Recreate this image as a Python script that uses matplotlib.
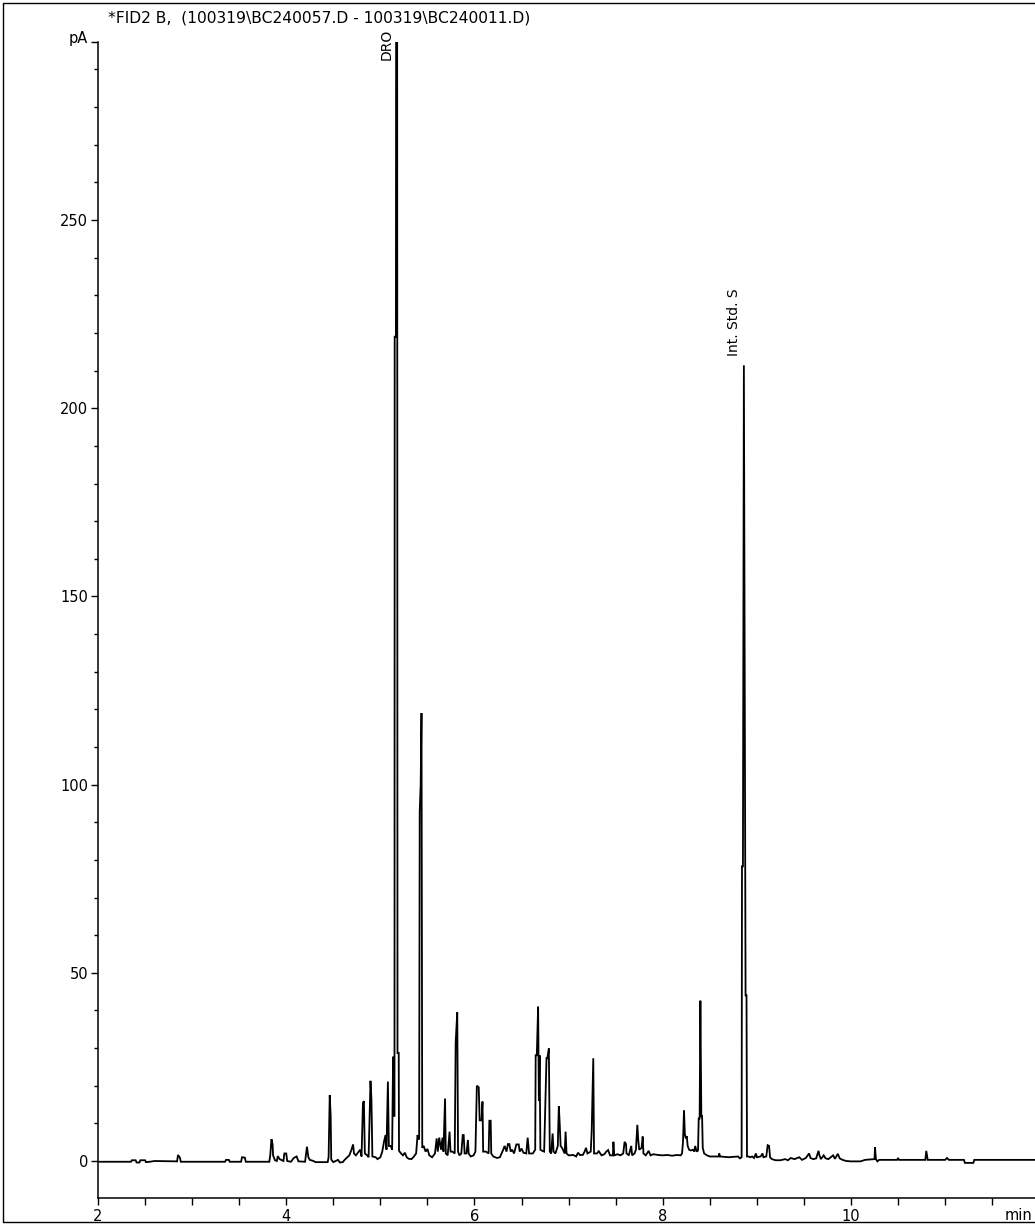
import matplotlib
matplotlib.use('Agg')
import matplotlib.pyplot as plt
from matplotlib.lines import Line2D
from matplotlib.ticker import MultipleLocator

# FID2 B chromatogram trace, (retention time in min, signal in pA)
trace_points = [
    (2.02, -0.2), (2.35, -0.2), (2.36, 0.2), (2.40, 0.2), (2.41, -0.4), (2.44, -0.4),
    (2.45, 0.2), (2.50, 0.2), (2.51, -0.3), (2.55, -0.2), (2.60, 0.0), (2.84, -0.1),
    (2.85, 1.6), (2.87, 0.9), (2.88, -0.2), (3.35, -0.2), (3.36, 0.3), (3.39, 0.3),
    (3.40, -0.2), (3.52, -0.2), (3.53, 1.0), (3.56, 0.9), (3.57, -0.2), (3.82, -0.2),
    (3.83, 1.5), (3.843, 5.8), (3.855, 4.4), (3.86, 1.5), (3.88, 0.2), (3.90, 0.0),
    (3.91, 1.3), (3.93, 0.5), (3.97, 0.0), (3.98, 2.0), (4.00, 2.0), (4.01, 0.0),
    (4.05, -0.2), (4.08, 0.8), (4.11, 1.2), (4.13, -0.1), (4.20, -0.2), (4.22, 3.8),
    (4.235, 1.0), (4.25, 0.3), (4.29, 0.0), (4.31, -0.3), (4.44, -0.3), (4.45, 1.0),
    (4.462, 17.5), (4.472, 12.0), (4.478, 0.4), (4.50, -0.3), (4.55, 0.3), (4.57, -0.4),
    (4.60, -0.3), (4.62, 0.3), (4.65, 1.0), (4.67, 1.5), (4.69, 2.8), (4.71, 4.4),
    (4.72, 2.0), (4.74, 1.5), (4.77, 2.5), (4.785, 3.0), (4.80, 1.2), (4.815, 15.5),
    (4.825, 15.9), (4.835, 2.0), (4.86, 1.5), (4.875, 1.0), (4.895, 21.3), (4.905, 16.4),
    (4.915, 1.2), (4.95, 1.0), (4.97, 0.5), (5.00, 1.0), (5.02, 2.5), (5.04, 5.3),
    (5.055, 6.9), (5.065, 3.0), (5.080, 21.1), (5.090, 4.0), (5.110, 4.0), (5.125, 3.0),
    (5.135, 27.7), (5.142, 12.0), (5.150, 12.0), (5.152, 219.0), (5.165, 219.0),
    (5.168, 330.0), (5.178, 330.0), (5.182, 28.7), (5.195, 28.7), (5.198, 2.7),
    (5.22, 2.0), (5.24, 1.5), (5.26, 2.2), (5.28, 1.0), (5.30, 0.6), (5.33, 0.5),
    (5.35, 1.0), (5.38, 2.0), (5.395, 6.9), (5.405, 5.7), (5.412, 6.0), (5.418, 92.7),
    (5.428, 100.0), (5.437, 119.0), (5.445, 3.5), (5.46, 4.0), (5.48, 2.5), (5.50, 3.2),
    (5.52, 1.5), (5.55, 1.0), (5.58, 2.0), (5.598, 6.0), (5.61, 2.5), (5.625, 6.2),
    (5.645, 3.0), (5.660, 6.2), (5.670, 2.5), (5.687, 16.6), (5.695, 2.0), (5.715, 1.5),
    (5.735, 7.8), (5.745, 2.5), (5.765, 2.5), (5.790, 2.0), (5.800, 31.5), (5.817, 39.5),
    (5.825, 2.5), (5.84, 1.5), (5.86, 2.0), (5.875, 6.9), (5.885, 6.9), (5.895, 2.0),
    (5.915, 2.0), (5.930, 5.6), (5.938, 2.0), (5.96, 1.2), (5.99, 1.5), (6.01, 2.5),
    (6.025, 20.0), (6.045, 19.6), (6.055, 10.8), (6.075, 10.8), (6.085, 15.8),
    (6.092, 2.5), (6.12, 2.5), (6.15, 2.0), (6.158, 10.7), (6.172, 10.7), (6.178, 2.0),
    (6.20, 1.2), (6.24, 0.8), (6.27, 1.0), (6.30, 2.7), (6.32, 4.0), (6.34, 2.5),
    (6.355, 4.5), (6.37, 4.5), (6.385, 2.5), (6.40, 3.0), (6.42, 2.0), (6.445, 4.4),
    (6.47, 4.4), (6.48, 2.5), (6.50, 3.3), (6.52, 2.2), (6.55, 2.0), (6.565, 6.2),
    (6.58, 2.0), (6.62, 2.0), (6.645, 3.0), (6.650, 28.1), (6.662, 28.1), (6.676, 41.0),
    (6.684, 16.0), (6.692, 28.1), (6.700, 3.0), (6.72, 2.7), (6.74, 2.5), (6.765, 27.3),
    (6.774, 27.3), (6.790, 29.9), (6.800, 2.5), (6.815, 2.0), (6.830, 7.3), (6.840, 2.5),
    (6.86, 2.0), (6.885, 4.0), (6.896, 14.6), (6.906, 9.5), (6.915, 4.0), (6.93, 3.5),
    (6.958, 2.0), (6.968, 7.8), (6.978, 2.0), (7.00, 1.5), (7.05, 1.6), (7.08, 1.2),
    (7.10, 2.2), (7.12, 1.6), (7.15, 1.6), (7.17, 2.5), (7.185, 3.5), (7.20, 2.0),
    (7.235, 2.5), (7.245, 7.8), (7.262, 27.3), (7.27, 2.0), (7.30, 2.0), (7.32, 2.6),
    (7.35, 1.5), (7.38, 1.8), (7.40, 2.5), (7.42, 2.9), (7.44, 1.5), (7.47, 1.5),
    (7.476, 5.1), (7.485, 1.5), (7.52, 1.8), (7.55, 1.5), (7.58, 2.0), (7.595, 5.1),
    (7.61, 4.5), (7.615, 2.0), (7.64, 1.5), (7.665, 4.0), (7.675, 1.5), (7.70, 2.0),
    (7.715, 3.0), (7.73, 9.6), (7.74, 5.5), (7.75, 3.0), (7.775, 3.5), (7.787, 6.5),
    (7.795, 2.0), (7.82, 1.5), (7.85, 2.7), (7.87, 1.5), (7.90, 1.8), (7.95, 1.6),
    (8.00, 1.5), (8.05, 1.6), (8.10, 1.4), (8.15, 1.6), (8.19, 1.5), (8.205, 2.0),
    (8.215, 5.0), (8.226, 13.4), (8.235, 7.1), (8.245, 6.0), (8.255, 6.6), (8.265, 4.0),
    (8.28, 3.0), (8.30, 2.8), (8.32, 3.0), (8.335, 2.5), (8.345, 4.0), (8.36, 2.5),
    (8.375, 2.8), (8.382, 11.3), (8.392, 11.3), (8.400, 42.6), (8.410, 11.9),
    (8.418, 11.9), (8.425, 3.5), (8.44, 2.0), (8.47, 1.5), (8.50, 1.2), (8.595, 1.2),
    (8.60, 2.0), (8.61, 1.2), (8.70, 1.0), (8.80, 1.2), (8.82, 0.7), (8.838, 1.0),
    (8.842, 78.3), (8.852, 78.3), (8.862, 211.4), (8.880, 44.0), (8.890, 44.0),
    (8.895, 1.2), (8.91, 1.2), (8.93, 1.0), (8.95, 1.2), (8.97, 0.8), (8.99, 2.0),
    (9.00, 1.0), (9.04, 1.2), (9.06, 2.0), (9.07, 1.0), (9.10, 1.2), (9.115, 4.2),
    (9.13, 4.0), (9.14, 1.0), (9.16, 0.5), (9.20, 0.2), (9.25, 0.2), (9.30, 0.5),
    (9.33, 0.2), (9.36, 0.8), (9.40, 0.5), (9.45, 1.0), (9.48, 0.3), (9.52, 0.8),
    (9.555, 2.0), (9.57, 0.8), (9.60, 0.5), (9.63, 0.7), (9.655, 2.7), (9.665, 1.5),
    (9.68, 0.5), (9.71, 1.5), (9.73, 0.7), (9.76, 0.5), (9.81, 1.5), (9.83, 0.6),
    (9.86, 1.9), (9.88, 0.7), (9.91, 0.3), (9.95, 0.0), (10.00, -0.1), (10.10, -0.1),
    (10.15, 0.3), (10.25, 0.5), (10.255, 3.6), (10.265, 0.5), (10.28, -0.1),
    (10.30, 0.3), (10.49, 0.3), (10.50, 0.8), (10.51, 0.3), (10.79, 0.3), (10.80, 2.7),
    (10.815, 0.3), (11.00, 0.3), (11.02, 0.8), (11.04, 0.3), (11.20, 0.3), (11.21, -0.5),
    (11.30, -0.5), (11.31, 0.3), (11.96, 0.3),
]
trace_min = [p[0] for p in trace_points]
trace_pa = [p[1] for p in trace_points]

# peak annotations
peak_names = ['DRO', 'Int. Std. S']
peak_label_min = [5.07, 8.76]
peak_label_pa = [292.5, 214.0]

title = r'*FID2 B,  (100319\BC240057.D - 100319\BC240011.D)'
x_ticks = [2, 4, 6, 8, 10]
y_ticks = [0, 50, 100, 150, 200, 250]

plt.rcParams['font.family'] = ['DejaVu Sans']

fig = plt.figure(figsize=(10.35, 12.26), dpi=100)
ax = fig.add_axes([98 / 1035, 28 / 1226, 937 / 1035, 1156 / 1226])

ax.plot(trace_min, trace_pa, color='black', lw=1.3, solid_joinstyle='miter')

ax.set_xlim(2, 11.955)
ax.set_ylim(-9.83, 297.3)

for spine in ['top', 'right']:
    ax.spines[spine].set_visible(False)
for spine in ['left', 'bottom']:
    ax.spines[spine].set_linewidth(1.1)

ax.set_xticks(x_ticks)
ax.set_xticklabels([str(v) for v in x_ticks])
ax.xaxis.set_minor_locator(MultipleLocator(0.5))
ax.set_yticks(y_ticks + [297.3])
ax.set_yticklabels([str(v) for v in y_ticks] + [''])
ax.yaxis.set_minor_locator(MultipleLocator(10))
ax.tick_params(axis='both', which='major', direction='out', length=5, width=1,
               labelsize=10.5, pad=3)
ax.tick_params(axis='x', which='minor', direction='out', length=5, width=1)
ax.tick_params(axis='y', which='minor', direction='out', length=3, width=1)
ax.tick_params(axis='y', which='major', pad=2)

for name, tx, ty in zip(peak_names, peak_label_min, peak_label_pa):
    ax.text(tx, ty, name, rotation=90, ha='center', va='bottom', fontsize=10,
            clip_on=False)

fig.text(319 / 1035, 1 - 18 / 1226, title, ha='center', va='center', fontsize=11.2)
fig.text(88 / 1035, 1 - 38 / 1226, 'pA', ha='right', va='center', fontsize=10.5)
fig.text(1032 / 1035, 1 - 1216 / 1226, 'min', ha='right', va='center', fontsize=10.5)

# outer frame (open on the right, cut by the image edge)
fx0, fy0, fy1 = 3 / 1035, 1 - 1222 / 1226, 1 - 3 / 1226
fig.add_artist(Line2D([1.0, fx0, fx0, 1.0], [fy1, fy1, fy0, fy0],
                      transform=fig.transFigure, color='black', lw=1.0))

fig.savefig('out.png', dpi=100)
